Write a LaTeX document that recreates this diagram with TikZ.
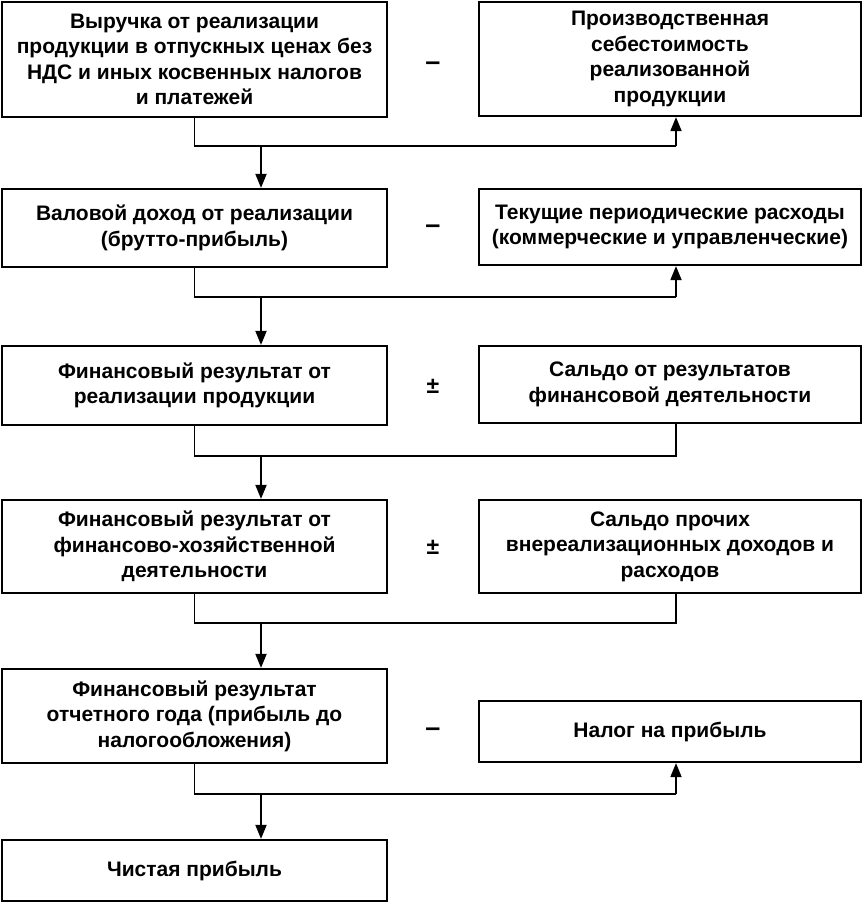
\documentclass[tikz,border=0pt]{standalone}
\usepackage{fontspec}
\setmainfont{Liberation Sans}
\usetikzlibrary{arrows.meta}
\begin{document}
\begin{tikzpicture}[x=1pt,y=-1pt,
  box/.style={draw, line width=2.2pt, inner sep=0pt, align=center,
    font=\fontsize{21}{25.5}\selectfont\bfseries},
  lbox/.style={box, minimum width=385pt},
  rbox/.style={box, minimum width=382pt},
  conn/.style={line width=1.8pt},
  arr/.style={conn, -{Triangle[length=14pt,width=11pt]}},
  op/.style={font=\fontsize{27}{28}\selectfont\bfseries, inner sep=0pt},
  pm/.style={font=\fontsize{23}{24}\selectfont\bfseries, inner sep=0pt}]
\useasboundingbox (0,0) rectangle (863,903);
% boxes
\node[lbox, minimum height=115pt] (L1) at (194.5,59.5)
  {Выручка от реализации\\продукции в отпускных ценах без\\НДС и иных косвенных налогов\\и платежей};
\node[rbox, minimum height=114pt] (R1) at (670,59)
  {Производственная\\себестоимость\\реализованной\\продукции};
\node[lbox, minimum height=78pt] (L2) at (194.5,228)
  {Валовой доход от реализации\\(брутто-прибыль)};
\node[rbox, minimum height=76pt] (R2) at (670,227)
  {Текущие периодические расходы\\(коммерческие и управленческие)};
\node[lbox, minimum height=79pt] (L3) at (194.5,385.5)
  {Финансовый результат от\\реализации продукции};
\node[rbox, minimum height=77pt] (R3) at (670,384.5)
  {Сальдо от результатов\\финансовой деятельности};
\node[lbox, minimum height=93pt] (L4) at (194.5,546.5)
  {Финансовый результат от\\финансово-хозяйственной\\деятельности};
\node[rbox, minimum height=93pt] (R4) at (670,546.5)
  {Сальдо прочих\\внереализационных доходов и\\расходов};
\node[lbox, minimum height=94pt] (L5) at (194.5,716)
  {Финансовый результат\\отчетного года (прибыль до\\налогообложения)};
\node[rbox, minimum height=61pt] (R5) at (670,731.5)
  {Налог на прибыль};
\node[lbox, minimum height=61pt] (L6) at (194.5,870.5)
  {Чистая прибыль};
% operators
\node[op] (o1) at (433,66) {–};
\node[op] (o2) at (433,229) {–};
\node[pm] (o3) at (433,386) {±};
\node[pm] (o4) at (433,547) {±};
\node[op] (o5) at (433,732) {–};
% junction coordinates
\coordinate (h1) at (676,146);
\coordinate (h2) at (676,297);
\coordinate (h3) at (676,456);
\coordinate (h4) at (676,623);
\coordinate (h5) at (676,794);
\coordinate (d1) at (261,146);
\coordinate (d2) at (261,297);
\coordinate (d3) at (261,456);
\coordinate (d4) at (261,623);
\coordinate (d5) at (261,794);
% connectors
\draw[conn] (L1.south) |- (h1);
\draw[arr] (h1) -- (h1 |- R1.south);
\draw[arr] (d1) -- (d1 |- L2.north);
\draw[conn] (L2.south) |- (h2);
\draw[arr] (h2) -- (h2 |- R2.south);
\draw[arr] (d2) -- (d2 |- L3.north);
\draw[conn] (L3.south) |- (h3) -- (h3 |- R3.south);
\draw[arr] (d3) -- (d3 |- L4.north);
\draw[conn] (L4.south) |- (h4) -- (h4 |- R4.south);
\draw[arr] (d4) -- (d4 |- L5.north);
\draw[conn] (L5.south) |- (h5);
\draw[arr] (h5) -- (h5 |- R5.south);
\draw[arr] (d5) -- (d5 |- L6.north);
\end{tikzpicture}
\end{document}
